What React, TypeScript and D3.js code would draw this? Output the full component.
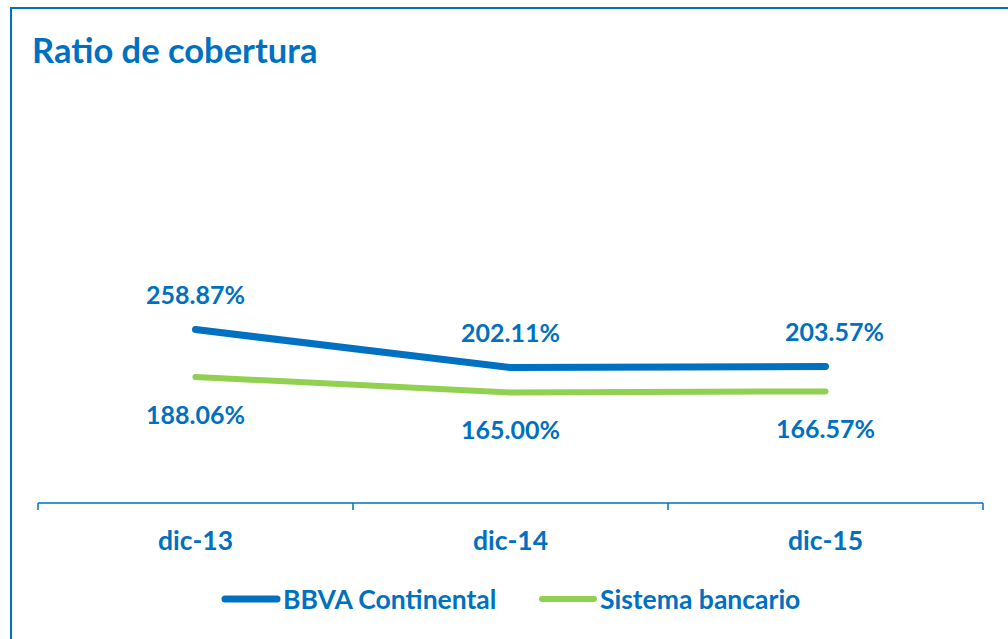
import React, { useEffect, useRef } from "react";
import * as d3 from "d3";

const categories = ["dic-13", "dic-14", "dic-15"];
const bbva = [258.87, 202.11, 203.57];
const sistema = [188.06, 165.0, 166.57];
const seriesNames = ["BBVA Continental", "Sistema bancario"];

const BLUE = "#0070C0";
const GREEN = "#92D050";
const FONT = "Lato, 'Open Sans', sans-serif";

const App = () => {
  const svgRef = useRef<SVGSVGElement | null>(null);

  useEffect(() => {
    const svg = d3.select(svgRef.current);
    svg.selectAll("*").remove();

    const width = 1008;
    const height = 639;

    // marco del gráfico
    svg.append("rect")
      .attr("x", 11).attr("y", 8)
      .attr("width", width).attr("height", height)
      .attr("fill", "white")
      .attr("stroke", BLUE).attr("stroke-width", 2);

    // título
    svg.append("text")
      .attr("x", 32).attr("y", 63)
      .attr("fill", BLUE)
      .attr("font-family", FONT).attr("font-weight", "bold")
      .attr("font-size", 34.5)
      .text("Ratio de cobertura");

    const x = d3.scaleBand<string>().domain(categories).range([38, 983]).paddingInner(0).paddingOuter(0);
    const y = d3.scaleLinear().domain([0, 700]).range([503, 34]);
    const cx = (c: string) => (x(c) ?? 0) + x.bandwidth() / 2;

    // eje x
    const axis = svg.append("g");
    axis.append("line")
      .attr("x1", x.range()[0]).attr("x2", x.range()[1])
      .attr("y1", y(0)).attr("y2", y(0))
      .attr("stroke", BLUE).attr("stroke-width", 1.5);
    const tickPos = categories.map((c) => x(c) ?? 0).concat([x.range()[1]]);
    axis.selectAll("line.tick").data(tickPos).join("line")
      .attr("class", "tick")
      .attr("x1", (d) => d).attr("x2", (d) => d)
      .attr("y1", y(0)).attr("y2", y(0) + 7)
      .attr("stroke", BLUE).attr("stroke-width", 1.5);
    axis.selectAll("text").data(categories).join("text")
      .attr("x", (d) => cx(d)).attr("y", 550)
      .attr("text-anchor", "middle")
      .attr("fill", BLUE)
      .attr("font-family", FONT).attr("font-weight", "bold").attr("font-size", 26.5)
      .text((d) => d);

    const line = d3.line<number>()
      .x((_, i) => cx(categories[i]))
      .y((d) => y(d));

    const series = [
      { values: sistema, color: GREEN, w: 6, dy: 47, dx: [0, 0, 0] },
      { values: bbva, color: BLUE, w: 7, dy: -26, dx: [0, 0, 9] },
    ];

    series.forEach((s) => {
      svg.append("path")
        .attr("d", line(s.values))
        .attr("fill", "none")
        .attr("stroke", s.color).attr("stroke-width", s.w)
        .attr("stroke-linecap", "round").attr("stroke-linejoin", "round");
      svg.append("g").selectAll("text").data(s.values).join("text")
        .attr("x", (_, i) => cx(categories[i]) + s.dx[i])
        .attr("y", (d) => y(d) + s.dy)
        .attr("text-anchor", "middle")
        .attr("fill", BLUE)
        .attr("font-family", FONT).attr("font-weight", "bold").attr("font-size", 25)
        .text((d) => d.toFixed(2) + "%");
    });

    // leyenda
    const legend = [
      { name: seriesNames[0], color: BLUE, x: 225, w: 7 },
      { name: seriesNames[1], color: GREEN, x: 542, w: 6 },
    ];
    legend.forEach((l) => {
      svg.append("line")
        .attr("x1", l.x).attr("x2", l.x + 52)
        .attr("y1", 599).attr("y2", 599)
        .attr("stroke", l.color).attr("stroke-width", l.w)
        .attr("stroke-linecap", "round");
      svg.append("text")
        .attr("x", l.x + 58).attr("y", 609)
        .attr("fill", BLUE)
        .attr("font-family", FONT).attr("font-weight", "bold").attr("font-size", 26.5)
        .text(l.name);
    });
  }, []);

  return (
    <svg
      ref={svgRef}
      width={1008}
      height={639}
      style={{ position: "absolute", left: 0, top: 0, background: "white" }}
    ></svg>
  );
};

export default App;
